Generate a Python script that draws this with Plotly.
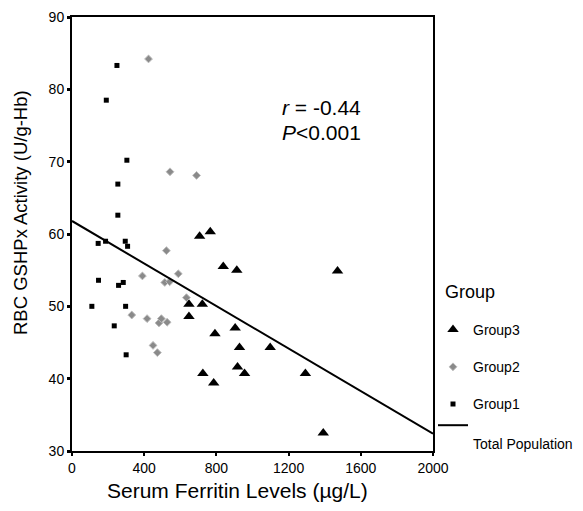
import plotly.graph_objects as go
import numpy as np

# Group1 (squares)
g1_x = [249, 190, 304, 254, 254, 145, 186, 295, 308, 147, 258, 284, 110, 297, 234, 300]
g1_y = [83.3, 78.5, 70.2, 66.9, 62.6, 58.7, 59.0, 59.0, 58.3, 53.6, 52.9, 53.3, 50.0, 50.0, 47.3, 43.3]

# Group2 (gray)
g2_x = [424, 543, 690, 523, 390, 514, 541, 589, 634, 331, 416, 482, 495, 527, 449, 473]
g2_y = [84.2, 68.6, 68.1, 57.7, 54.2, 53.3, 53.4, 54.5, 51.2, 48.8, 48.3, 47.7, 48.3, 47.8, 44.6, 43.6]

# Group3 (triangles)
g3_x = [707, 766, 838, 913, 648, 722, 648, 792, 904, 928, 917, 956, 725, 785, 1098, 1293, 1392, 1471]
g3_y = [59.7, 60.3, 55.5, 55.0, 50.3, 50.3, 48.6, 46.2, 47.0, 44.3, 41.6, 40.7, 40.7, 39.4, 44.3, 40.7, 32.5, 54.9]

# regression line (total population)
intercept = 61.8
slope = -0.0147
line_range = [0, 2000]

x_ticks = [0, 400, 800, 1200, 1600, 2000]
y_ticks = [30, 40, 50, 60, 70, 80, 90]

FONT = "Arial, Liberation Sans, sans-serif"

lx = np.array(line_range, dtype=float)
ly = intercept + slope * lx

fig = go.Figure()
fig.add_trace(go.Scatter(x=g3_x, y=g3_y, mode="markers", name="Group3", legendgroup="a",
                         marker=dict(symbol="triangle-up", size=10, color="black")))
fig.add_trace(go.Scatter(x=g2_x, y=g2_y, mode="markers", name="Group2", legendgroup="b",
                         marker=dict(symbol="diamond", size=6, color="#8a8a8a",
                                     line=dict(color="#bbbbbb", width=1))))
fig.add_trace(go.Scatter(x=g1_x, y=g1_y, mode="markers", name="Group1", legendgroup="c",
                         marker=dict(symbol="square", size=5, color="black")))
fig.add_trace(go.Scatter(x=lx, y=ly, mode="lines", name="&nbsp;<br>Total Population", legendgroup="c",
                         line=dict(color="black", width=2)))

# plot area in window px: x 72..433, y 17..451 ; page body has 8px margin
L, T = 64, 9
PW, PH = 361, 434
W, H = 575, 503

def px(xw):
    return (xw - 72) / PW

def py(yw):
    return (451 - yw) / PH

fig.update_layout(
    width=W, height=H,
    margin=dict(l=L, r=W - L - PW, t=T, b=H - T - PH, autoexpand=False),
    paper_bgcolor="white", plot_bgcolor="white",
    font=dict(family=FONT, color="black", size=14),
    showlegend=True,
    legend=dict(x=1.0, xanchor="left", y=py(314), yanchor="top",
                font=dict(size=14), tracegroupgap=16, valign="top",
                bgcolor="rgba(0,0,0,0)"),
    xaxis=dict(range=[0, 2000], tickvals=x_ticks, showgrid=False, zeroline=False,
               showline=True, linecolor="black", linewidth=2, mirror=True,
               ticks="outside", ticklen=3, tickwidth=2, tickcolor="black",
               tickfont=dict(size=14)),
    yaxis=dict(range=[30, 90], tickvals=y_ticks, showgrid=False, zeroline=False,
               showline=True, linecolor="black", linewidth=2, mirror=True,
               ticks="outside", ticklen=3, tickwidth=3, tickcolor="black",
               tickfont=dict(size=14)),
    annotations=[
        dict(text="<i>r</i> = -0.44", xref="paper", yref="paper", x=px(280), y=py(107),
             xanchor="left", yanchor="middle", showarrow=False, font=dict(size=21)),
        dict(text="<i>P</i>&lt;0.001", xref="paper", yref="paper", x=px(280), y=py(133),
             xanchor="left", yanchor="middle", showarrow=False, font=dict(size=21)),
        dict(text="Serum Ferritin Levels (µg/L)", xref="paper", yref="paper", x=px(237),
             y=py(490), xanchor="center", yanchor="middle", showarrow=False, font=dict(size=21)),
        dict(text="RBC GSHPx Activity (U/g-Hb)", xref="paper", yref="paper", x=px(20),
             y=py(213), xanchor="center", yanchor="middle", textangle=-90,
             showarrow=False, font=dict(size=18.5)),
        dict(text="Group", xref="paper", yref="paper", x=px(443), y=py(292),
             xanchor="left", yanchor="middle", showarrow=False, font=dict(size=18)),
    ],
)

fig.write_html("out.html")
